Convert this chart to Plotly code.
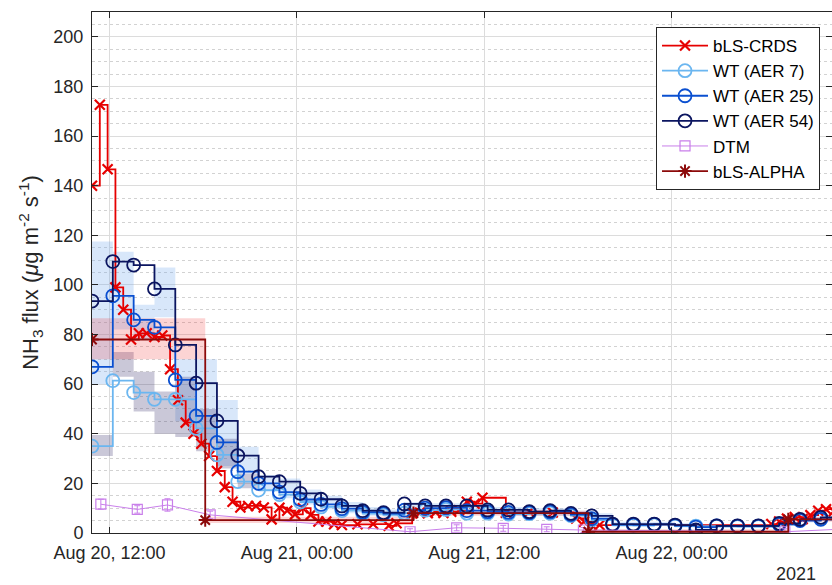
import plotly.graph_objects as go
import pandas as pd

# ---------------- data ----------------
# Wind-tunnel (WT) series: 80-minute steps
wt_start = "2021-08-20 10:53"
wt_step_minutes = 80
wt_aer7 = [35, 61.4, 56.6, 53.9, 53.9, 42.2, 31.5, 20.7, 17.3, 15.5, 12.5, 10.5, 9.0, 7.8, 7.3,
           8.0, 9.2, 9.5, 8.0, 8.0, 7.6, 7.8, 8.0, 7.0, 5.2, 3.2, 3.1, 3.3, 2.8, 2.8, 2.7, 2.6,
           2.6, 3.5, 5.3, 6.0, 6.2]
wt_aer25 = [67, 95.6, 85.9, 82.9, 61.7, 47.2, 36.5, 24.7, 20.0, 16.5, 13.5, 11.5, 9.8, 8.4, 7.8,
            9.2, 10.0, 10.2, 9.0, 8.6, 8.3, 8.2, 8.5, 7.4, 5.8, 3.4, 3.3, 3.5, 3.0, 2.4, 2.9, 2.8,
            2.8, 3.5, 5.0, 5.5, 6.0]
wt_aer54 = [93.5, 109.4, 108, 98.4, 75.8, 60.4, 45.2, 31.2, 22.7, 20.7, 16.0, 13.6, 10.9, 9.0, 8.2,
            11.7, 10.9, 10.9, 10.9, 9.3, 9.3, 8.6, 9.0, 7.9, 6.9, 3.6, 3.6, 3.6, 3.2, 1.2, 2.9, 2.9,
            2.9, 3.9, 5.5, 6.3, 6.5]
# uncertainty bands drawn per WT step
wt_band_hi = [117.5, 113.4, 92, 107, 70, 70, 53.6, 34.8, 23.4, 22, 17.5, 15, 12.5, 10.5, 9.5,
              12.5, 12, 12, 12, 10.5, 10.5, 10, 10, 9, 8, 4.5, 4.5, 4.5, 4, 3.5, 3.5, 3.5,
              3.5, 4.5, 6.5, 7.2]
wt_band_lo = [60, 82, 78, 87, 45, 37.5, 27, 24, 16.6, 14, 11.5, 9.5, 8, 7, 6.5,
              7.5, 8.5, 8.5, 7.5, 7.5, 7, 7, 7, 6.5, 5, 2.5, 2.5, 2.8, 2.2, 1.0, 2.0, 2.0,
              2.0, 2.8, 4.2, 4.8]
aer7_band_hi = [39.5, 73, 65, 57, 63, 50, 38, 24]
aer7_band_lo = [31, 63, 49, 40, 38.7, 33, 26, 18]

# bLS-CRDS: 30-minute steps (None = no data)
crds_start = "2021-08-20 10:53"
crds_step_minutes = 30
crds = [140, 172.6, 146.6, 99, 90, 78, 80.5, 80.5, 79, 79.6,
        66, 53.5, 44.5, 40, 36, 31, 25, 18.5, 12.6, 10.3,
        10.9, 10.9, 10.3, 5.5, 10.2, 9.0, 7.5, 10, 7.3, 4.6,
        4.6, 3.5, 3.2, None, 3.5, None, 3.6, None, 2.9, 3.9,
        None, 7.9, 8.2, 8.0, 8.4, 8.1, 8.6, 9.2, 12.6, 11.8,
        14.2, None, None, 8.2, None, None, 8.6, None, None, 8.3,
        None, None, 5.9, 4.5, 3.2, 3.2, None, None, None, None,
        None, None, None, None, None, None, None, None, None, None,
        None, None, None, None, None, None, None, 3.6, 4.6, 5.8,
        6.4, 5.6, 7.2, 9.0, 9.6, 8.8]

# bLS-ALPHA
alpha_times = ["2021-08-20 10:53", "2021-08-20 18:08", "2021-08-21 07:28",
               "2021-08-21 18:40", "2021-08-22 07:28", "2021-08-22 11:00"]
alpha_vals = [78, 5.2, 8.0, 0.5, 5.5, 5.5]
alpha_band_hi = [86.6, 6.5, 9.0, 1.5, 6.5]
alpha_band_lo = [70, 4.0, 7.0, 0.0, 4.5]

# DTM
dtm_times = ["2021-08-20 11:27", "2021-08-20 13:47", "2021-08-20 15:43", "2021-08-20 18:27",
             "2021-08-21 07:15", "2021-08-21 10:14", "2021-08-21 13:13", "2021-08-21 16:00",
             "2021-08-21 18:21", "2021-08-22 07:15", "2021-08-22 10:40"]
dtm_vals = [11.6, 9.5, 11.3, 7.3, 0.5, 2.1, 1.9, 1.5, 1.2, 0.5, 1.5]
dtm_err = [2.0, 1.5, 2.5, 1.5, 1.2, 1.2, 1.2, 1.0, 1.0, 1.2, 1.0]

y_tick_vals = list(range(0, 201, 20))
x_tick_vals = ["2021-08-20 12:00", "2021-08-21 00:00", "2021-08-21 12:00", "2021-08-22 00:00"]
x_tick_text = ["Aug 20, 12:00", "Aug 21, 00:00", "Aug 21, 12:00", "Aug 22, 00:00"]
x_range = ["2021-08-20 10:53", "2021-08-22 10:16"]
year_label = "2021"

# ---------------- styling ----------------
C_CRDS = "#E60000"
C_AER7 = "#6BB6F0"
C_AER25 = "#0A4FD0"
C_AER54 = "#0B1560"
C_DTM = "#C97FEA"
C_ALPHA = "#8C0A0A"
AX = "#262626"
FONT = "Liberation Sans, Arial, Helvetica, sans-serif"

wt_times = list(pd.date_range(wt_start, periods=len(wt_aer54), freq=f"{wt_step_minutes}min"))
crds_times = list(pd.date_range(crds_start, periods=len(crds), freq=f"{crds_step_minutes}min"))
alpha_t = [pd.Timestamp(t) for t in alpha_times]


def rects(edges, lo, hi):
    xs, ys = [], []
    for i in range(len(lo)):
        if lo[i] is None or hi[i] is None:
            continue
        x0, x1 = edges[i], edges[i + 1]
        xs += [x0, x1, x1, x0, x0, None]
        ys += [lo[i], lo[i], hi[i], hi[i], lo[i], None]
    return xs, ys


fig = go.Figure()

# bands
bx, by = rects(wt_times, wt_band_lo, wt_band_hi)
fig.add_trace(go.Scatter(x=bx, y=by, fill="toself", fillcolor="rgba(110,165,235,0.27)",
                         line=dict(width=0), mode="lines", showlegend=False, hoverinfo="skip"))
bx, by = rects(wt_times, aer7_band_lo, aer7_band_hi)
fig.add_trace(go.Scatter(x=bx, y=by, fill="toself", fillcolor="rgba(60,50,110,0.27)",
                         line=dict(width=0), mode="lines", showlegend=False, hoverinfo="skip"))
bx, by = rects(alpha_t, alpha_band_lo, alpha_band_hi)
fig.add_trace(go.Scatter(x=bx, y=by, fill="toself", fillcolor="rgba(240,40,40,0.2)",
                         line=dict(width=0), mode="lines", showlegend=False, hoverinfo="skip"))

# lines
fig.add_trace(go.Scatter(x=crds_times, y=crds, name="bLS-CRDS", mode="lines+markers",
                         line=dict(color=C_CRDS, width=1.8, shape="hv"), connectgaps=True,
                         marker=dict(symbol="x-thin-open", size=10, line=dict(color=C_CRDS, width=2.2)),
                         legendrank=1))
for vals, name, col, rank in [(wt_aer7, "WT (AER 7)", C_AER7, 2),
                              (wt_aer25, "WT (AER 25)", C_AER25, 3),
                              (wt_aer54, "WT (AER 54)", C_AER54, 4)]:
    fig.add_trace(go.Scatter(x=wt_times, y=vals, name=name, mode="lines+markers",
                             line=dict(color=col, width=1.8, shape="hv"),
                             marker=dict(symbol="circle-open", size=13, line=dict(color=col, width=1.8)),
                             legendrank=rank))
fig.add_trace(go.Scatter(x=dtm_times, y=dtm_vals, name="DTM", mode="lines+markers",
                         line=dict(color=C_DTM, width=1),
                         marker=dict(symbol="square-open", size=10, line=dict(color=C_DTM, width=1.2)),
                         error_y=dict(type="data", array=dtm_err, color=C_DTM, thickness=1, width=3),
                         legendrank=5))
fig.add_trace(go.Scatter(x=alpha_t, y=alpha_vals, name="bLS-ALPHA", mode="lines+markers",
                         line=dict(color=C_ALPHA, width=1.8, shape="hv"),
                         marker=dict(symbol="asterisk-open", size=11, line=dict(color=C_ALPHA, width=2)),
                         legendrank=6))

fig.update_layout(
    width=832, height=585,
    margin=dict(l=92, r=0, t=12, b=52),
    paper_bgcolor="white", plot_bgcolor="white",
    font=dict(family=FONT, size=18, color=AX),
    legend=dict(x=0.9838, y=0.9712, xanchor="right", yanchor="top",
                bgcolor="white", bordercolor=AX, borderwidth=1,
                font=dict(family=FONT, size=17, color="#000000"),
                itemwidth=46, tracegroupgap=0),
    annotations=[dict(text=year_label, x=0.981, y=-0.078, xref="paper", yref="paper",
                      xanchor="right", yanchor="middle", showarrow=False,
                      font=dict(family=FONT, size=18, color=AX))],
)
fig.update_xaxes(range=x_range, tickvals=x_tick_vals, ticktext=x_tick_text,
                 tickfont=dict(family=FONT, size=18, color=AX), ticklabelstandoff=3,
                 showline=True, linecolor=AX, linewidth=1, mirror="allticks",
                 ticks="inside", ticklen=6, tickcolor=AX,
                 showgrid=True, gridcolor="#dcdcdc", gridwidth=1, zeroline=False)
fig.update_yaxes(range=[0, 210], tickvals=y_tick_vals,
                 tickfont=dict(family=FONT, size=18, color=AX), ticklabelstandoff=4,
                 title=dict(text="NH<sub>3</sub> flux (<i>μ</i>g m<sup>-2</sup> s<sup>-1</sup>)",
                            font=dict(family=FONT, size=22, color=AX), standoff=8),
                 showline=True, linecolor=AX, linewidth=1, mirror="allticks",
                 ticks="inside", ticklen=6, tickcolor=AX,
                 showgrid=True, gridcolor="#dcdcdc", gridwidth=1, zeroline=False,
                 minor=dict(dtick=5, showgrid=True, gridcolor="#d2d2d2", griddash="dot", ticks=""))

fig.write_html("out.html")
